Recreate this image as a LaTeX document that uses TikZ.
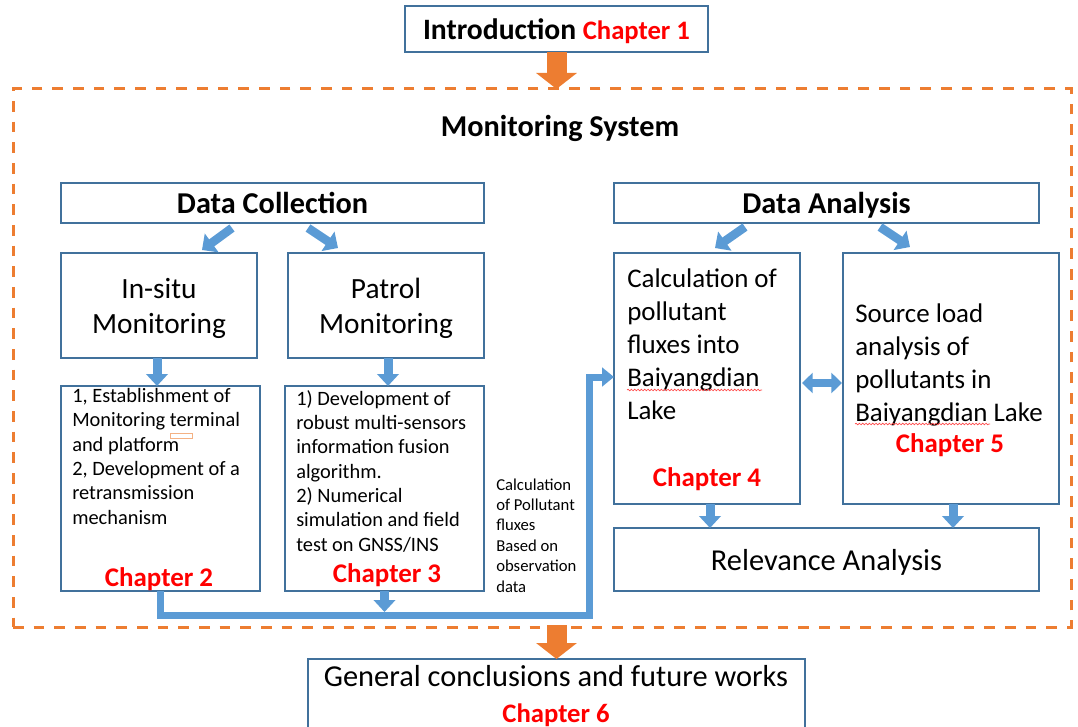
\documentclass[tikz,border=0pt]{standalone}
\usepackage{fontspec}
\setmainfont{Carlito}
\usetikzlibrary{arrows.meta,decorations.pathmorphing}
\definecolor{boxline}{RGB}{65,113,156}
\definecolor{flowblue}{RGB}{91,155,213}
\definecolor{flowor}{RGB}{237,125,49}
\definecolor{chapred}{RGB}{255,0,0}
\definecolor{notemark}{RGB}{244,177,131}
\begin{document}
\begin{tikzpicture}[x=0.75pt,y=-0.75pt,
  box/.style={draw=boxline, line width=0.9pt, inner sep=0pt, outer sep=0pt, text depth=0pt},
  frame/.style={draw=flowor, line width=2.25pt, dash pattern=on 8pt off 7.5pt, inner sep=0pt, outer sep=0pt},
  head/.style={font=\bfseries\fontsize{22.7pt}{27pt}\selectfont},
  big/.style={font=\fontsize{22pt}{26.25pt}\selectfont, align=center},
  wide/.style={font=\fontsize{22.8pt}{26.5pt}\selectfont, align=center},
  body/.style={font=\fontsize{15.3pt}{18.2pt}\selectfont, align=left, inner sep=0pt, anchor=base west},
  mid/.style={font=\fontsize{20.2pt}{24.7pt}\selectfont, align=left, inner sep=0pt, anchor=base west},
  note/.style={font=\fontsize{12.5pt}{15.3pt}\selectfont, align=left, inner sep=0pt, anchor=base west},
  chap/.style={text=chapred, font=\bfseries\fontsize{20.2pt}{24pt}\selectfont, inner sep=0pt},
  tipdown/.style={draw=flowblue, line width=6.75pt, -{Triangle[width=16pt,length=9pt]}},
  diag/.style={draw=flowblue, line width=6.5pt, -{Triangle[width=17pt,length=9pt]}},
  both/.style={draw=flowblue, line width=5.5pt, {Triangle[width=15pt,length=8pt]}-{Triangle[width=15pt,length=8pt]}},
  bigflow/.style={draw=flowblue, line width=5.25pt, line join=miter, -{Triangle[width=14pt,length=9pt]}},
  bigor/.style={draw=flowor, line width=15pt, -{Triangle[width=30pt,length=12pt]}},
  squig/.style={draw=chapred!70, line width=0.5pt, decorate, decoration={snake, amplitude=0.6pt, segment length=2.5pt}}]
\useasboundingbox (0,0) rectangle (1078,727);
\clip (0,0) rectangle (1078,727);

% outer monitoring-system frame
\node[frame, minimum width=793.5pt, minimum height=403.5pt] (frame) at (542,358) {};

% boxes
\node[box, minimum width=227.25pt, minimum height=34.5pt, font=\bfseries\fontsize{22.2pt}{26pt}\selectfont] (intro) at (556.5,29)
  {Introduction \textcolor{chapred}{\fontsize{20pt}{24pt}\selectfont Chapter 1}};
\node[head] (mon) at (560,128) {Monitoring System};
\node[box, head, minimum width=317.25pt, minimum height=30pt] (dc) at (272.5,203) {Data Collection};
\node[box, head, minimum width=318.75pt, minimum height=30pt] (da) at (826.5,203) {Data Analysis};
\node[box, big, minimum width=147pt, minimum height=78.75pt] (insitu) at (159,305.5) {In-situ\\Monitoring};
\node[box, big, minimum width=147pt, minimum height=78.75pt] (patrol) at (386,305.5) {Patrol\\Monitoring};
\node[box, minimum width=149.25pt, minimum height=153.75pt] (est) at (160.5,488.5) {};
\node[box, minimum width=149.25pt, minimum height=153.75pt] (dev) at (384.5,488.5) {};
\node[box, minimum width=139.5pt, minimum height=188.25pt] (calc) at (707,378.5) {};
\node[box, minimum width=162pt, minimum height=188.25pt] (src) at (951,378.5) {};
\node[box, wide, minimum width=318.75pt, minimum height=47.25pt] (rel) at (826.5,559.5) {Relevance Analysis};
\node[box, minimum width=372.75pt, minimum height=90.75pt] (concl) at (556.5,719.5) {};

% box texts (each anchored on the baseline of its last line)
\node[body] (esttext) at (72,524) {1, Establishment of\\Monitoring terminal\\and platform\\2, Development of a\\retransmission\\mechanism};
\node[chap] (ch2) at (159,579) {Chapter 2};
\node[body] (devtext) at (296,551) {1) Development of\\robust multi-sensors\\information fusion\\algorithm.\\2) Numerical\\simulation and field\\test on GNSS/INS};
\node[chap] (ch3) at (387,575) {Chapter 3};
\node[note] (side) at (496,592) {Calculation\\of Pollutant\\fluxes\\Based on\\observation\\data};
\node[mid] (calctext) at (627,419) {Calculation of\\pollutant\\fluxes into\\Baiyangdian\\Lake};
\node[chap] (ch4) at (707,479) {Chapter 4};
\node[mid] (srctext) at (855,421) {Source load\\analysis of\\pollutants in\\Baiyangdian Lake};
\node[chap] (ch5) at (950,445) {Chapter 5};
\node[wide, inner sep=0pt] (concltext) at (556,696) {General conclusions and future works\\\textcolor{chapred}{\bfseries\fontsize{20pt}{24pt}\selectfont Chapter 6}};

% spelling marks and comment marker
\draw[squig] (627,390) -- (762,390);
\draw[squig] (855,424) -- (990,424);
\draw[draw=notemark, line width=0.5pt] (170,433) rectangle (192,438);

% orange flow arrows
\draw[bigor] (intro.south) -- (intro.south |- frame.north);
\draw[bigor] ([shift={(0,-2)}]frame.south -| concl.north) -- (concl.north);

% blue arrows
\draw[diag] ([shift={(-40.5,5)}]dc.south) -- ([shift={(43,-3)}]insitu.north);
\draw[diag] ([shift={(35.5,5)}]dc.south) -- ([shift={(-48,-5)}]patrol.north);
\draw[diag] ([shift={(-81.5,4)}]da.south) -- ([shift={(8,-5)}]calc.north);
\draw[diag] ([shift={(53.5,4)}]da.south) -- ([shift={(-41,-6)}]src.north);
\draw[tipdown] ([shift={(-2,0)}]insitu.south) -- ([shift={(-2,0)}]insitu.south |- est.north);
\draw[tipdown] ([shift={(2,0)}]patrol.south) -- ([shift={(2,0)}]patrol.south |- dev.north);
\coordinate (bend) at (589,615);
\draw[bigflow] (est.south) |- (bend) |- ([shift={(0,-1.5)}]calc.west);
\draw[tipdown] (dev.south) -- ([shift={(0,-3)}]dev.south |- bend);
\draw[both] ([shift={(2,4.5)}]calc.east) -- ([shift={(-1,4.5)}]src.west);
\draw[tipdown] ([shift={(3,0)}]calc.south) -- ([shift={(3,0)}]calc.south |- rel.north);
\draw[tipdown] ([shift={(2,0)}]src.south) -- ([shift={(2,0)}]src.south |- rel.north);
\end{tikzpicture}
\end{document}
